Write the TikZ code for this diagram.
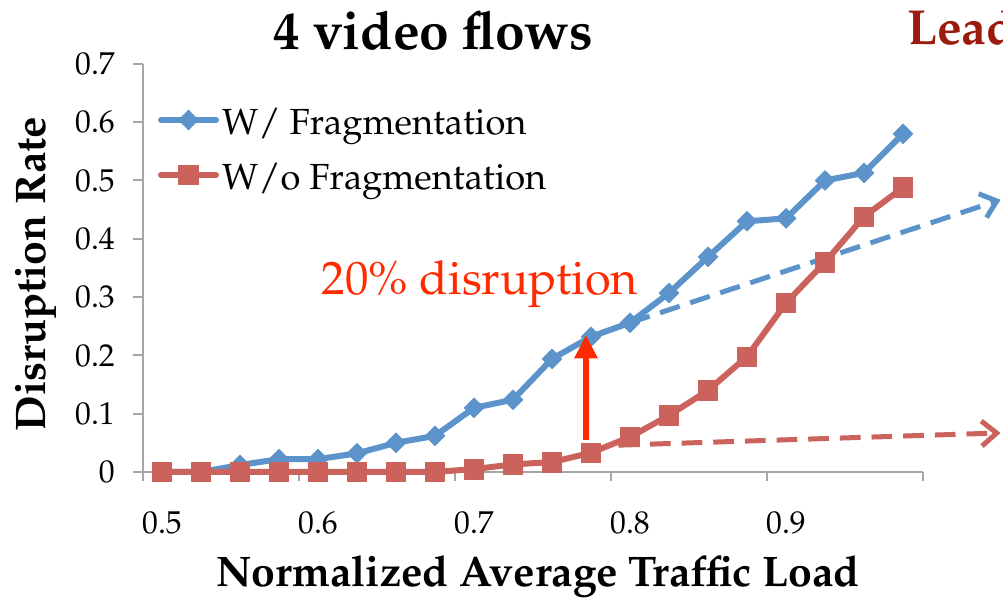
\documentclass[tikz,border=0pt]{standalone}
\usepackage[T1]{fontenc}
\usepackage{mathpazo}
\usetikzlibrary{arrows.meta,plotmarks}

\definecolor{wfrag}{HTML}{5B93CA}
\definecolor{wofrag}{HTML}{CB625C}
\definecolor{axisgray}{HTML}{A6A6A6}
\definecolor{notered}{HTML}{FF2A00}
\definecolor{leadred}{HTML}{9B1C0C}

\tikzset{
  axisline/.style={draw=axisgray, line width=0.06cm},
  ticklabel/.style={inner sep=0pt, font=\fontsize{27}{30}\selectfont},
  axistitle/.style={inner sep=0pt, anchor=base, font=\fontsize{36.5}{40}\selectfont\bfseries},
  legendtext/.style={inner sep=0pt, anchor=base west, font=\fontsize{31}{34}\selectfont},
  wline/.style={draw=wfrag, line width=0.18cm, line join=round, line cap=round,
    mark=square*, mark size=6pt, mark options={rotate=45, fill=wfrag, line width=0.5pt}},
  woline/.style={draw=wofrag, line width=0.18cm, line join=round, line cap=round,
    mark=square*, mark size=8.3pt, mark options={fill=wofrag, line width=0.5pt}},
  trendline/.style={line width=0.15cm, dash pattern=on 0.62cm off 0.33cm,
    -{Straight Barb[length=0.45cm,width=0.75cm]}},
}

\begin{document}
\begin{tikzpicture}[x=0.03cm,y=0.03cm]
\useasboundingbox (0,0) rectangle (1003,601);

% axes
\coordinate (origin) at (142.5,129);
\coordinate (ytop) at (142.5,537);
\coordinate (xend) at (922.5,129);
\draw[axisline] (ytop) -- (origin) -- (xend);
\foreach \k/\lab in {0/0,1/0.1,2/0.2,3/0.3,4/0.4,5/0.5,6/0.6,7/0.7} {
  \draw[axisline] (133,129+58.3*\k) -- (142.5,129+58.3*\k);
  \node[ticklabel, anchor=east] (ylab\k) at (115,129+58.3*\k) {\lab};
}
\foreach \k in {0,...,5}
  \draw[axisline] (142.5+156*\k,129) -- (142.5+156*\k,120);
\foreach \k/\lab in {0/0.5,1/0.6,2/0.7,3/0.8,4/0.9}
  \node[ticklabel] (xlab\k) at (162+156*\k,78) {\lab};

\node[axistitle] (xtitle) at (538,14) {Normalized Average Traffic Load};
\node[axistitle, rotate=90] (ytitle) at (45,327) {Disruption Rate};
\node[inner sep=0pt, anchor=base, font=\fontsize{45.5}{48}\selectfont\bfseries] (title) at (433,551) {4 video flows};
\node[inner sep=0pt, anchor=base west, text=leadred, font=\fontsize{42}{46}\selectfont\bfseries] (lead) at (907,556) {Lead};

% data
\begin{scope}[shift={(162,129)}, x=1.17cm, y=17.49cm]
\coordinate (wpt) at (12,0.256);
\coordinate (wend) at (21.5,0.467);
\coordinate (wostart) at (11.7,0.046);
\coordinate (woend) at (21.5,0.067);
\draw[trendline, wfrag] (wpt) -- (wend);
\draw[trendline, wofrag] (wostart) -- (woend);
\draw[wline] plot coordinates {(0,0) (1,0) (2,0.012) (3,0.022) (4,0.022) (5,0.032)
  (6,0.05) (7,0.062) (8,0.11) (9,0.124) (10,0.194) (11,0.232) (12,0.256) (13,0.307)
  (14,0.369) (15,0.43) (16,0.435) (17,0.5) (18,0.513) (19,0.58)};
\draw[woline] plot coordinates {(0,0) (1,0) (2,0) (3,0) (4,0) (5,0) (6,0) (7,0)
  (8,0.005) (9,0.013) (10,0.017) (11,0.033) (12,0.06) (13,0.097) (14,0.14)
  (15,0.198) (16,0.29) (17,0.36) (18,0.438) (19,0.488)};
\end{scope}

\coordinate (jumplow) at (586,161);
\coordinate (jumphigh) at (586,266);
\draw[draw=notered, line width=0.2cm, -{Triangle[length=0.7cm,width=0.66cm]}] (jumplow) -- (jumphigh);
\node[text=notered, anchor=base, inner sep=0pt, font=\fontsize{40}{44}\selectfont] (note) at (480,306) {20\% disruption};

% legend
\draw[wline] plot[mark indices={2}] coordinates {(161,481) (188.5,481) (216,481)};
\draw[woline] plot[mark indices={2}] coordinates {(161,426) (188.5,426) (216,426)};
\node[legendtext] (wlabel) at (222,466) {W/ Fragmentation};
\node[legendtext] (wolabel) at (222,411) {W/o Fragmentation};
\end{tikzpicture}
\end{document}
